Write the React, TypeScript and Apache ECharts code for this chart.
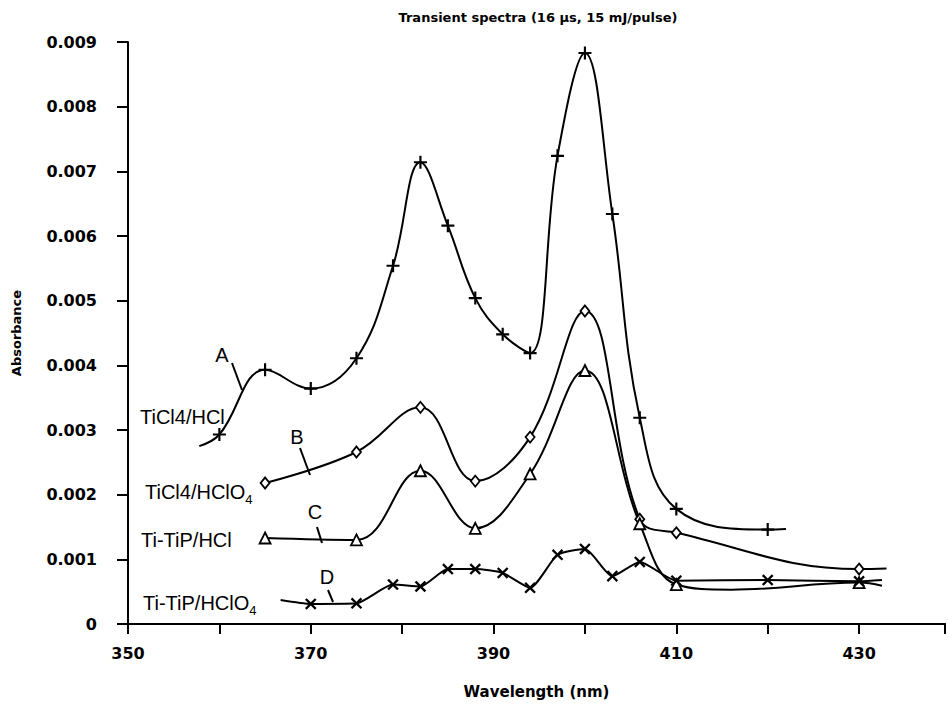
import { useEffect, useRef } from "react";
import * as echarts from "echarts";

// ---- data (wavelength nm / absorbance) ----
const xLabelStep = 20;
const xMin = 350;
const xMax = 439.4;
const yMax = 0.009;

// Curve A: TiCl4/HCl (+)
const waveA = [357.8, 360, 365, 370, 375, 379, 382, 385, 388, 391, 394, 397, 400, 403, 406, 410, 420, 422];
const absA = [0.00275, 0.00293, 0.00393, 0.00364, 0.00411, 0.00554, 0.00714, 0.00616, 0.00504, 0.00448, 0.00419, 0.00724, 0.00883, 0.00634, 0.00319, 0.00178, 0.00146, 0.00147];
const bareA = [357.8, 422];

// Curve B: TiCl4/HClO4 (diamond)
const waveB = [365, 375, 382, 388, 394, 400, 406, 410, 430, 433];
const absB = [0.00218, 0.00266, 0.00335, 0.00221, 0.00289, 0.00484, 0.00162, 0.00141, 0.00085, 0.00086];
const bareB = [433];

// Curve C: Ti-TiP/HCl (triangle)
const waveC = [365, 375, 382, 388, 394, 400, 406, 410, 416, 430, 432.5];
const absC = [0.00133, 0.0013, 0.00237, 0.00148, 0.00232, 0.00392, 0.00155, 0.00061, 0.00053, 0.00064, 0.00059];
const bareC = [416, 432.5];

// Curve D: Ti-TiP/HClO4 (x)
const waveD = [366.7, 370, 375, 379, 382, 385, 388, 391, 394, 397, 400, 403, 406, 410, 420, 430, 432.5];
const absD = [0.00037, 0.00031, 0.00032, 0.00061, 0.00058, 0.00085, 0.00085, 0.00079, 0.00056, 0.00107, 0.00116, 0.00074, 0.00096, 0.00067, 0.00068, 0.00066, 0.00068];
const bareD = [366.7, 432.5];

const titleText = "Transient spectra (16 \u00b5s, 15 mJ/pulse)";
const xName = "Wavelength (nm)";
const yName = "Absorbance";

const PLUS = "path://M-1,-6L1,-6L1,-1L6,-1L6,1L1,1L1,6L-1,6L-1,1L-6,1L-6,-1L-1,-1Z";

function build(wave: number[], abs: number[], bare: number[]) {
  return wave.map((x, i) =>
    bare.includes(x) ? { value: [x, abs[i]], symbol: "none" } : { value: [x, abs[i]] }
  );
}

const axisFont = { fontFamily: "DejaVu Sans", fontWeight: "bold" as const, fontSize: 16, color: "#000" };
const labelFont = "20px 'Liberation Sans'";

export default function App() {
  const ref = useRef<HTMLDivElement>(null);
  useEffect(() => {
    if (!ref.current) return;
    const chart = echarts.init(ref.current, undefined, { renderer: "svg" });
    const line = { color: "#000", width: 2 };
    const text = (t: string, x: number, y: number, extra: any = {}) => ({
      type: "text",
      x,
      y,
      style: { text: t, font: labelFont, fill: "#000", textVerticalAlign: "middle", ...extra },
    });
    const seg = (x1: number, y1: number, x2: number, y2: number) => ({
      type: "line",
      shape: { x1, y1, x2, y2 },
      style: { stroke: "#000", lineWidth: 2 },
    });
    const sub = {
      a: { font: labelFont, fill: "#000" },
      s: { fontFamily: "Liberation Sans", fontSize: 13, padding: [14, 0, 0, 0] },
    };
    chart.setOption({
      animation: false,
      backgroundColor: "#fff",
      grid: { left: 128, right: 0, top: 42, bottom: 79 },
      xAxis: [
        {
          type: "value",
          min: xMin,
          max: xMax,
          interval: 10,
          name: xName,
          nameLocation: "middle",
          nameGap: 60,
          nameTextStyle: { fontFamily: "DejaVu Sans", fontWeight: "bold", fontSize: 15, color: "#000" },
          axisLine: { show: true, onZero: false, lineStyle: { color: "#000", width: 2 } },
          axisTick: { show: true, length: 10, lineStyle: { color: "#000", width: 2 } },
          axisLabel: {
            ...axisFont,
            margin: 21,
            formatter: (v: number) => ((v - xMin) % xLabelStep === 0 ? String(v) : ""),
          },
          splitLine: { show: false },
        },
        {
          type: "value",
          position: "top",
          min: xMin,
          max: xMax,
          axisLine: { show: true, lineStyle: { color: "#000", width: 2 } },
          axisTick: { show: false },
          axisLabel: { show: false },
          splitLine: { show: false },
        },
      ],
      yAxis: {
        type: "value",
        min: 0,
        max: yMax,
        interval: 0.001,
        name: yName,
        nameLocation: "middle",
        nameGap: 105,
        nameTextStyle: { fontFamily: "DejaVu Sans", fontWeight: "bold", fontSize: 13, color: "#000" },
        axisLine: { show: true, lineStyle: { color: "#000", width: 2 } },
        axisTick: { show: true, length: 11, lineStyle: { color: "#000", width: 2 } },
        axisLabel: {
          ...axisFont,
          margin: 31,
          formatter: (v: number) => (v === 0 ? "0" : v.toFixed(3)),
        },
        splitLine: { show: false },
      },
      series: [
        {
          type: "line",
          data: build(waveA, absA, bareA),
          smooth: 0.4,
          symbol: PLUS,
          symbolSize: 13,
          lineStyle: line,
          itemStyle: { color: "#000" },
        },
        {
          type: "line",
          data: build(waveB, absB, bareB),
          smooth: 0.4,
          symbol: "diamond",
          symbolSize: [9, 11],
          lineStyle: line,
          itemStyle: { color: "#fff", borderColor: "#000", borderWidth: 1.8 },
        },
        {
          type: "line",
          data: build(waveC, absC, bareC),
          smooth: 0.4,
          symbol: "triangle",
          symbolSize: 11,
          lineStyle: line,
          itemStyle: { color: "#fff", borderColor: "#000", borderWidth: 1.8 },
        },
        {
          type: "line",
          data: build(waveD, absD, bareD),
          smooth: 0.2,
          symbol: PLUS,
          symbolRotate: 45,
          symbolSize: 14,
          lineStyle: line,
          itemStyle: { color: "#000" },
        },
      ],
      graphic: [
        {
          type: "text",
          x: 538,
          y: 17,
          style: {
            text: titleText,
            font: "bold 13px 'DejaVu Sans'",
            fill: "#000",
            textAlign: "center",
            textVerticalAlign: "middle",
          },
        },
        text("A", 222, 355, { textAlign: "center" }),
        seg(232, 363, 242, 390),
        text("TiCl4/HCl", 140, 417),
        text("B", 297, 437, { textAlign: "center" }),
        seg(300, 448, 310, 475),
        { type: "text", x: 145, y: 492, style: { text: "{a|TiCl4/HClO}{s|4}", rich: sub, textVerticalAlign: "middle" } },
        text("C", 315, 512, { textAlign: "center" }),
        seg(317, 527, 322, 543),
        text("Ti-TiP/HCl", 141, 540),
        text("D", 327, 577, { textAlign: "center" }),
        seg(328, 590, 333, 602),
        { type: "text", x: 143, y: 603, style: { text: "{a|Ti-TiP/HClO}{s|4}", rich: sub, textVerticalAlign: "middle" } },
      ],
    });
    return () => chart.dispose();
  }, []);
  return (
    <div
      ref={ref}
      style={{ position: "absolute", left: 0, top: 0, width: 948, height: 704, background: "#fff" }}
    />
  );
}
